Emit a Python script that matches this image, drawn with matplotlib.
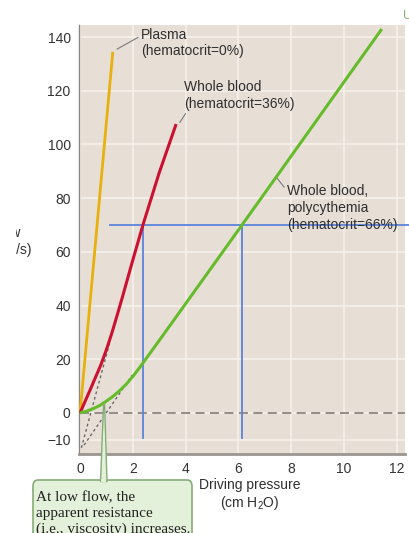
import matplotlib
matplotlib.use("Agg")
import matplotlib.pyplot as plt
from matplotlib.patches import FancyBboxPatch, Polygon, Rectangle

plt.rcParams['font.family'] = ['Liberation Sans', 'DejaVu Sans']
plt.rcParams['mathtext.fontset'] = 'custom'
plt.rcParams['mathtext.rm'] = 'Liberation Sans'
plt.rcParams['mathtext.default'] = 'regular'

# ---------------- data ----------------
plasma_x = [0, 1.24]
plasma_y = [0, 134.5]

whole_x = [0, 0.4, 0.8, 1.0, 1.2, 1.4, 1.6, 2.0, 2.4, 3.0, 3.64]
whole_y = [0, 9.0, 18.2, 23.6, 29.6, 36.2, 43.0, 57.0, 70.6, 89.5, 107.6]

poly_x = [0, 0.25, 0.5, 0.75, 1.0, 1.25, 1.5, 1.75, 2.0, 2.25, 2.5, 3.0, 4.0, 6.12, 8.0, 10.0, 11.43]
poly_y = [0, 0.65, 1.6, 2.8, 4.4, 6.2, 8.3, 10.7, 13.6, 16.8, 20.2, 27.0, 40.7, 69.8, 95.7, 123.3, 143.0]

whole_ext_x = [0.05, 1.12]
whole_ext_y = [-13.0, 26.0]
poly_ext_x = [0.15, 1.97]
poly_ext_y = [-12.0, 14.0]

ref_flow = 70
ref_pressures = [2.4, 6.12]
ref_h_x = [1.14, 12.45]
ref_v_bottom = -9.5

xticks = [0, 2, 4, 6, 8, 10, 12]
yticks = [-10, 0, 20, 40, 60, 80, 100, 120, 140]

# ---------------- figure ----------------
W, H = 409, 533
fig = plt.figure(figsize=(W / 100, H / 100), dpi=100)
fig.patch.set_facecolor('white')

def fx(px):
    return px / W

def fy(py):
    return 1 - py / H

ax = fig.add_axes([fx(79), fy(454), fx(405) - fx(79), fy(25) - fy(454)])
ax.set_facecolor('#e7dfd6')
ax.set_xlim(-0.04, 12.31)
ax.set_ylim(-15.3, 144.5)
ax.set_xticks(xticks)
ax.set_yticks(yticks)
ax.set_yticklabels(['\u221210' if v < 0 else str(v) for v in yticks])
ax.tick_params(length=0, labelsize=10, colors='#333333', pad=6)
ax.grid(True, color='#f6f2ec', lw=1.1)
ax.set_axisbelow(True)
for s in ['top', 'right']:
    ax.spines[s].set_visible(False)
ax.spines['left'].set_color('#8a8682')
ax.spines['left'].set_linewidth(1.0)
ax.spines['bottom'].set_color('#9a9590')
ax.spines['bottom'].set_linewidth(2.0)

# zero dashed line
ax.plot([0, 12.31], [0, 0], ls=(0, (5, 3)), color='#8a8580', lw=1.3, zorder=2)

# extrapolation dotted lines
ax.plot(whole_ext_x, whole_ext_y, ls=(0, (2, 2)), color='#6a6a6a', lw=1.0, zorder=2)
ax.plot(poly_ext_x, poly_ext_y, ls=(0, (2, 2)), color='#6a6a6a', lw=1.0, zorder=2)

# blue reference lines
ax.plot(ref_h_x, [ref_flow, ref_flow], color='#5b84dc', lw=1.3, zorder=3, clip_on=False)
for p in ref_pressures:
    ax.plot([p, p], [ref_v_bottom, ref_flow], color='#5b84dc', lw=1.3, zorder=3)

# curves
ax.plot(plasma_x, plasma_y, color='#e8b00c', lw=2.0, zorder=4, solid_capstyle='butt')
ax.plot(whole_x, whole_y, color='#cc1030', lw=2.2, zorder=4, solid_capstyle='butt',
        solid_joinstyle='round')
ax.plot(poly_x, poly_y, color='#66bb2a', lw=2.2, zorder=4, solid_capstyle='butt',
        solid_joinstyle='round')

# labels with leader lines
tc = '#2f2f2f'
lc = '#7a7a7a'
ax.annotate('Plasma\n(hematocrit=0%)', xy=(1.40, 135.5), xytext=(2.31, 143.5),
            ha='left', va='top', fontsize=10, color=tc, linespacing=1.25,
            arrowprops=dict(arrowstyle='-', color=lc, lw=0.8, shrinkA=0, shrinkB=0,
                            relpos=(0, 0.74)))
ax.annotate('Whole blood\n(hematocrit=36%)', xy=(3.78, 108.2), xytext=(3.94, 124.0),
            ha='left', va='top', fontsize=10, color=tc, linespacing=1.25,
            arrowprops=dict(arrowstyle='-', color=lc, lw=0.8, shrinkA=0, shrinkB=0,
                            relpos=(0.03, 0.0)))
ax.annotate('Whole blood,\npolycythemia\n(hematocrit=66%)', xy=(7.46, 87.5), xytext=(7.84, 85.2),
            ha='left', va='top', fontsize=10, color=tc, linespacing=1.25,
            arrowprops=dict(arrowstyle='-', color=lc, lw=0.8, shrinkA=0, shrinkB=0,
                            relpos=(0, 0.86)))

# axis titles (y label partially cropped as in the source image)
fig.text(fx(21), fy(233), 'Flow', ha='right', va='center', fontsize=10, color=tc)
fig.text(fx(32), fy(250), '(mL/s)', ha='right', va='center', fontsize=10, color=tc)
fig.add_artist(Rectangle((0, fy(262)), fx(15.5), fy(220) - fy(262),
                         transform=fig.transFigure, fc='white', ec='none', zorder=20))
fig.text(fx(250), fy(485), 'Driving pressure', ha='center', va='center', fontsize=10, color=tc)
fig.text(fx(250), fy(503), '(cm H$_2$O)', ha='center', va='center', fontsize=10, color=tc)

# top-right fragment
fig.text(fx(403), fy(16), 'U', ha='left', va='center', fontsize=9, color='#86b070')

# callout box
box_fc = '#e3f1da'
box_ec = '#86ab76'
box = FancyBboxPatch((fx(33), fy(548)), fx(192) - fx(33), fy(480) - fy(548),
                     boxstyle='round,pad=0,rounding_size=0.012',
                     transform=fig.transFigure, fc=box_fc, ec=box_ec, lw=1.2, zorder=5)
fig.add_artist(box)
pointer = Polygon([(fx(100.5), fy(481.5)), (fx(103.6), fy(404)), (fx(104.6), fy(404)),
                   (fx(107), fy(481.5))], closed=True, transform=fig.transFigure,
                  fc=box_fc, ec=box_ec, lw=1.0, zorder=6)
fig.add_artist(pointer)
seam = Polygon([(fx(101.3), fy(482.2)), (fx(106.2), fy(482.2)), (fx(106.2), fy(479)),
                (fx(101.3), fy(479))], closed=True, transform=fig.transFigure,
               fc=box_fc, ec='none', zorder=7)
fig.add_artist(seam)
fig.text(fx(36), fy(491), 'At low flow, the\napparent resistance\n(i.e., viscosity) increases.',
         ha='left', va='top', fontsize=11, color='#222222', family='Liberation Serif',
         linespacing=1.28, zorder=8)

fig.savefig('out.png', dpi=100)
